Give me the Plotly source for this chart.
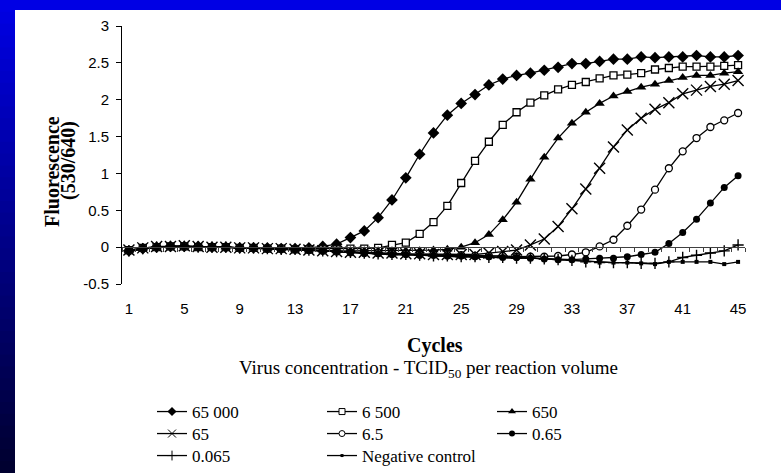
import plotly.graph_objects as go

W, H = 781, 473
ML, MR, MT, MB = 122, 36, 26, 189
PW, PH = W - ML - MR, H - MT - MB

cycles = list(range(1, 46))
tick_cycles = [1, 5, 9, 13, 17, 21, 25, 29, 33, 37, 41, 45]
y_ticks = [-0.5, 0, 0.5, 1, 1.5, 2, 2.5, 3]
y_tick_labels = ["-0.5", "0", "0.5", "1", "1.5", "2", "2.5", "3"]

s_65000 = [-0.05, -0.02, 0.00, 0.01, 0.01, 0.01, 0.00, 0.00, -0.01, -0.01,
           -0.01, -0.02, -0.02, -0.01, 0.01, 0.04, 0.13, 0.22, 0.40, 0.64,
           0.94, 1.26, 1.55, 1.79, 1.95, 2.07, 2.20, 2.28, 2.33, 2.36,
           2.40, 2.44, 2.49, 2.49, 2.52, 2.55, 2.55, 2.58, 2.57, 2.58,
           2.58, 2.60, 2.58, 2.58, 2.60]
s_6500 = [-0.04, -0.01, 0.00, 0.01, 0.01, 0.00, 0.00, 0.00, -0.01, -0.01,
          -0.02, -0.02, -0.03, -0.03, -0.03, -0.03, -0.02, -0.02, -0.01, 0.03,
          0.06, 0.18, 0.34, 0.56, 0.87, 1.17, 1.43, 1.66, 1.83, 1.96,
          2.06, 2.14, 2.20, 2.24, 2.29, 2.33, 2.34, 2.36, 2.41, 2.43,
          2.45, 2.45, 2.45, 2.46, 2.47]
s_650 = [-0.05, -0.02, 0.00, 0.01, 0.01, 0.00, 0.00, 0.00, -0.01, -0.01,
         -0.02, -0.02, -0.03, -0.04, -0.04, -0.05, -0.05, -0.05, -0.05, -0.05,
         -0.05, -0.05, -0.04, -0.03, 0.00, 0.06, 0.17, 0.37, 0.61, 0.92,
         1.22, 1.48, 1.68, 1.83, 1.95, 2.05, 2.11, 2.17, 2.21, 2.26,
         2.30, 2.33, 2.33, 2.36, 2.38]
s_65 = [-0.04, -0.01, 0.01, 0.01, 0.02, 0.01, 0.00, 0.00, -0.01, -0.01,
        -0.02, -0.02, -0.03, -0.04, -0.05, -0.06, -0.07, -0.07, -0.08, -0.08,
        -0.09, -0.09, -0.10, -0.10, -0.10, -0.10, -0.08, -0.06, -0.04, 0.03,
        0.11, 0.28, 0.52, 0.79, 1.07, 1.36, 1.59, 1.75, 1.87, 1.96,
        2.08, 2.13, 2.18, 2.21, 2.26]
s_6_5 = [-0.05, -0.02, 0.00, 0.01, 0.01, 0.00, 0.00, 0.00, -0.01, -0.01,
         -0.02, -0.02, -0.03, -0.04, -0.05, -0.06, -0.07, -0.08, -0.08, -0.09,
         -0.09, -0.10, -0.10, -0.11, -0.11, -0.12, -0.12, -0.12, -0.13, -0.13,
         -0.13, -0.12, -0.10, -0.07, 0.01, 0.10, 0.29, 0.51, 0.78, 1.07,
         1.30, 1.48, 1.63, 1.72, 1.82]
s_0_65 = [-0.05, -0.02, 0.00, 0.01, 0.01, 0.00, 0.00, 0.00, -0.01, -0.01,
          -0.02, -0.03, -0.03, -0.04, -0.05, -0.06, -0.07, -0.08, -0.09, -0.10,
          -0.10, -0.11, -0.11, -0.12, -0.12, -0.13, -0.13, -0.14, -0.14, -0.15,
          -0.16, -0.17, -0.17, -0.16, -0.15, -0.15, -0.13, -0.10, -0.07, 0.05,
          0.20, 0.38, 0.60, 0.81, 0.97]
s_0_065 = [-0.05, -0.02, 0.00, 0.01, 0.01, 0.00, 0.00, 0.00, -0.01, -0.01,
           -0.02, -0.03, -0.03, -0.04, -0.05, -0.06, -0.07, -0.08, -0.09, -0.10,
           -0.10, -0.11, -0.12, -0.12, -0.13, -0.13, -0.14, -0.14, -0.15, -0.15,
           -0.16, -0.17, -0.18, -0.20, -0.21, -0.21, -0.21, -0.22, -0.22, -0.20,
           -0.14, -0.11, -0.08, -0.05, 0.03]
s_neg = [-0.05, -0.02, 0.00, 0.01, 0.01, 0.00, 0.00, 0.00, -0.01, -0.01,
         -0.02, -0.03, -0.03, -0.04, -0.05, -0.06, -0.07, -0.08, -0.09, -0.10,
         -0.10, -0.11, -0.12, -0.12, -0.13, -0.13, -0.14, -0.14, -0.15, -0.15,
         -0.16, -0.17, -0.18, -0.20, -0.21, -0.21, -0.21, -0.22, -0.23, -0.20,
         -0.20, -0.20, -0.20, -0.23, -0.20]

series_names = ["65 000", "6 500", "650", "65", "6.5", "0.65", "0.065", "Negative control"]
series_values = [s_65000, s_6500, s_650, s_65, s_6_5, s_0_65, s_0_065, s_neg]
legend_rows = ["legend", "legend", "legend", "legend2", "legend2", "legend2", "legend3", "legend3"]

# (symbol, size, fill color, outline width, legend size)
styles = [
    ("diamond", 9, "black", 0, 7),
    ("square", 7, "white", 1.3, 6),
    ("triangle-up", 9, "black", 0, 7),
    ("x-thin", 11, "black", 1.4, 8),
    ("circle", 7, "white", 1.3, 6),
    ("circle", 7, "black", 0, 6),
    ("cross-thin", 8, "black", 1.4, 7),
    ("square", 4, "black", 0, 3),
]

fig = go.Figure()
for name, vals, (sym, size, fill, lw, lsize) in zip(series_names, series_values, styles):
    fig.add_trace(go.Scatter(
        x=cycles, y=vals, mode="lines+markers", name=name, showlegend=False,
        line=dict(color="black", width=1.3),
        marker=dict(symbol=sym, size=size, color=fill, line=dict(color="black", width=lw)),
    ))
for name, row, (sym, size, fill, lw, lsize) in zip(series_names, legend_rows, styles):
    fig.add_trace(go.Scatter(
        x=[None], y=[None], mode="lines+markers", name=name, showlegend=True, legend=row,
        line=dict(color="black", width=1.3),
        marker=dict(symbol=sym, size=lsize, color=fill, line=dict(color="black", width=min(lw, 1))),
    ))

# dummy trace to activate x2 axis
fig.add_trace(go.Scatter(x=[None], y=[None], xaxis="x2", showlegend=False))


def px_x(p):
    return (p - ML) / PW


def px_y(p):
    return 1 - (p - MT) / PH


shapes = []
N = 40
for i in range(N):
    t = i / (N - 1)
    b = int(228 - (228 - 48) * t)
    y0p = H * i / N
    y1p = H * (i + 1) / N + 1
    shapes.append(dict(type="rect", xref="paper", yref="paper", layer="below",
                       x0=px_x(0), x1=px_x(15), y0=px_y(y1p), y1=px_y(y0p),
                       fillcolor=f"rgb(0,0,{b})", line=dict(width=0)))
shapes.append(dict(type="rect", xref="paper", yref="paper", layer="below",
                   x0=px_x(0), x1=px_x(W), y0=px_y(10), y1=px_y(0),
                   fillcolor="rgb(0,0,228)", line=dict(width=0)))

serif = "Liberation Serif, Times New Roman, serif"
sans = "Liberation Sans, Arial, sans-serif"

annotations = [
    dict(text="<b>Cycles</b>", xref="paper", yref="paper", x=px_x(435), y=px_y(345),
         showarrow=False, font=dict(family=serif, size=20, color="black"),
         xanchor="center", yanchor="middle"),
    dict(text="Virus concentration - TCID<sub>50</sub> per reaction volume", xref="paper", yref="paper",
         x=px_x(428), y=px_y(369), showarrow=False,
         font=dict(family=serif, size=19, color="black"), xanchor="center", yanchor="middle"),
    dict(text="<b>Fluorescence</b>", xref="paper", yref="paper", x=px_x(52), y=px_y(172),
         showarrow=False, textangle=-90, font=dict(family=serif, size=20, color="black"),
         xanchor="center", yanchor="middle"),
    dict(text="<b>(530/640)</b>", xref="paper", yref="paper", x=px_x(68), y=px_y(161),
         showarrow=False, textangle=-90, font=dict(family=serif, size=20, color="black"),
         xanchor="center", yanchor="middle"),
]


def legend_row(top_px):
    return dict(orientation="h", x=px_x(152), y=px_y(top_px), xanchor="left", yanchor="top",
                entrywidth=125, entrywidthmode="pixels", traceorder="normal",
                font=dict(family=serif, size=17, color="black"), bgcolor="rgba(0,0,0,0)",
                itemsizing="trace", tracegroupgap=0)


fig.update_layout(
    width=W, height=H, margin=dict(l=ML, r=MR, t=MT, b=MB, autoexpand=False),
    paper_bgcolor="white", plot_bgcolor="white",
    shapes=shapes, annotations=annotations,
    xaxis=dict(range=[0.5, 45.5], tickvals=tick_cycles, ticktext=[str(c) for c in tick_cycles],
               showgrid=False, zeroline=False, showline=False,
               ticks="outside", ticklen=11, tickcolor="rgba(0,0,0,0)",
               tickfont=dict(family=sans, size=15, color="black")),
    xaxis2=dict(range=[0.5, 45.5], overlaying="x", anchor="free", position=0.5 / 3.5,
                side="bottom", showline=True, linecolor="#404040", linewidth=1,
                ticks="outside", ticklen=4, tickcolor="#404040", tickwidth=1,
                tickvals=[c - 0.5 for c in cycles] + [45.5], showticklabels=False,
                showgrid=False, zeroline=False),
    yaxis=dict(range=[-0.5, 3], tickvals=y_ticks, ticktext=y_tick_labels,
               showgrid=False, zeroline=False, showline=True, linecolor="black", linewidth=1,
               ticks="outside", ticklen=5, tickcolor="black", ticklabelstandoff=4,
               tickfont=dict(family=sans, size=15, color="black")),
    legend=legend_row(394),
    legend2=legend_row(416),
    legend3=legend_row(438),
    showlegend=True,
)

fig.write_html("out.html")
